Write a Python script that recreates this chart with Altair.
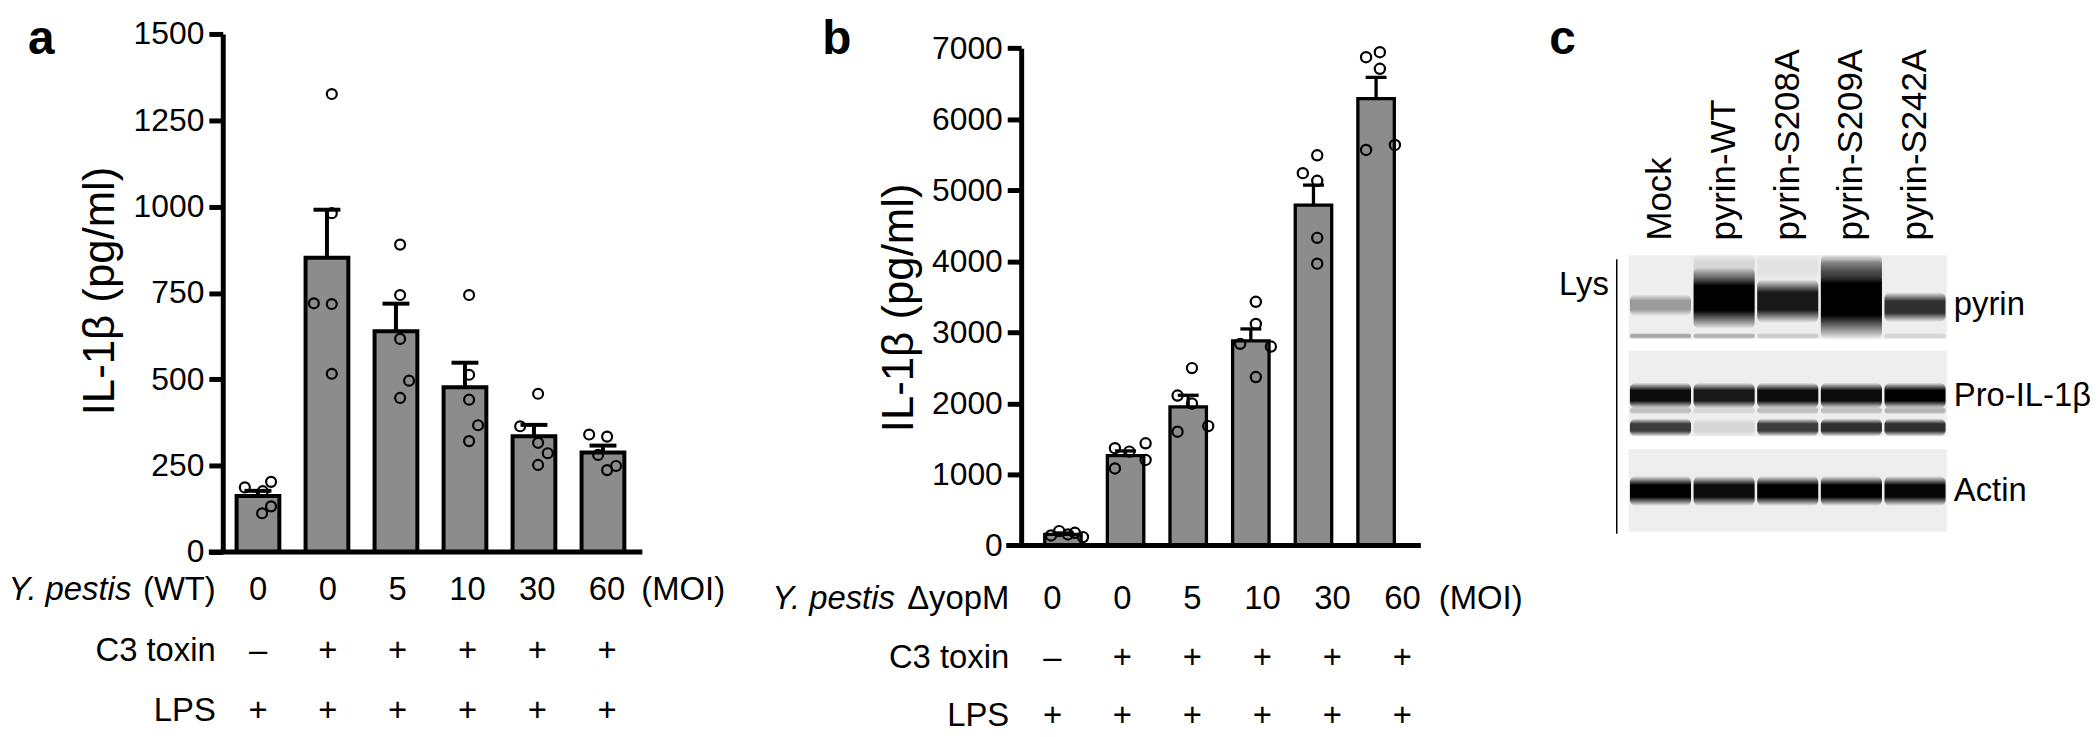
import altair as alt
import pandas as pd

FONT = "Liberation Sans"

# ---------------- panel a data ----------------
a_moi = ["0", "0", "5", "10", "30", "60"]
a_c3 = ["–", "+", "+", "+", "+", "+"]
a_lps = ["+", "+", "+", "+", "+", "+"]
a_mean = [162, 852, 639, 477, 335, 288]
a_sem = [15, 139, 80, 71, 33, 20]
a_points = [
    [187, 203, 176, 132, 112],
    [1326, 981, 720, 718, 516],
    [890, 744, 617, 496, 446],
    [744, 513, 441, 367, 321],
    [458, 364, 316, 286, 252],
    [340, 334, 281, 249, 237],
]
a_jitter = [
    [-0.19, 0.19, 0.07, 0.19, 0.06],
    [0.07, 0.07, -0.19, 0.07, 0.07],
    [0.06, 0.06, 0.06, 0.19, 0.06],
    [0.06, 0.06, 0.06, 0.19, 0.06],
    [0.06, -0.2, 0.06, 0.2, 0.06],
    [-0.2, 0.06, -0.07, 0.19, 0.06],
]
a_ticks = [0, 250, 500, 750, 1000, 1250, 1500]

# ---------------- panel b data ----------------
b_moi = ["0", "0", "5", "10", "30", "60"]
b_c3 = ["–", "+", "+", "+", "+", "+"]
b_lps = ["+", "+", "+", "+", "+", "+"]
b_mean = [155, 1265, 1950, 2880, 4790, 6290]
b_sem = [20, 65, 164, 168, 283, 300]
b_points = [
    [140, 201, 154, 178, 117],
    [1368, 1321, 1438, 1204, 1083],
    [2497, 2110, 1998, 1680, 1601],
    [3430, 3118, 2838, 2800, 2371],
    [5493, 5241, 5134, 4331, 3967],
    [6874, 6944, 6711, 5568, 5638],
]
b_jitter = [
    [-0.19, -0.06, 0.08, 0.19, 0.32],
    [-0.17, 0.06, 0.32, 0.32, -0.17],
    [0.06, -0.17, 0.06, 0.32, -0.17],
    [0.08, 0.08, -0.17, 0.32, 0.08],
    [0.06, -0.17, 0.06, 0.06, 0.06],
    [-0.16, 0.06, 0.06, -0.16, 0.3],
]
b_ticks = [0, 1000, 2000, 3000, 4000, 5000, 6000, 7000]

# ---------------- panel c data (western blot) ----------------
c_lanes = ["Mock", "pyrin-WT", "pyrin-S208A", "pyrin-S209A", "pyrin-S242A"]
c_blots = ["pyrin", "Pro-IL-1β", "Actin"]
c_strip_top = [0, 96, 195]
c_strip_bottom = [84, 182, 278]
c_label_pos = [50, 141, 237]
# band centre / thickness / darkness per lane (migration units from blot top)
c_pyrin_center = [50, 43, 46, 44, 52]
c_pyrin_thick = [22, 62, 44, 80, 30]
c_pyrin_int = [0.35, 1.0, 0.9, 1.0, 0.8]
c_pyrin_low_int = [0.3, 0.25, 0.15, 0.0, 0.1]
c_smear_int = [0.0, 0.1, 0.05, 0.35, 0.0]
c_il1_up_int = [0.95, 0.9, 0.95, 0.95, 1.0]
c_il1_mid_int = [0.2, 0.1, 0.2, 0.2, 0.25]
c_il1_low_int = [0.75, 0.1, 0.75, 0.8, 0.8]
c_actin_int = [1.0, 0.95, 1.0, 1.0, 0.97]


def text_at(txt, x, y, size, align="left", baseline="middle", style="normal",
            weight="normal", angle=None):
    kw = dict(fontSize=size, align=align, baseline=baseline, fontStyle=style,
              fontWeight=weight, color="black", font=FONT)
    if angle is not None:
        kw["angle"] = angle
    return alt.Chart(pd.DataFrame({"t": [txt]})).mark_text(**kw).encode(
        text="t:N", x=alt.value(x), y=alt.value(y))


def bar_panel(letter, means, sems, points, jitter, moi, c3, lps, ymax, ticks,
              yrange, width, height, xdom, labdom, bar_half, cap_half, lw,
              pt_size, title_xy, letter_xy, hdr_it_x, hdr_rest, hdr_x, rows_y,
              moi_x, base_left):
    bars = pd.DataFrame({"g": list(range(6)), "mean": means, "sem": sems})
    bars["top"] = bars["mean"] + bars["sem"]
    bars["zero"] = 0
    recs = []
    for i, (vs, js) in enumerate(zip(points, jitter)):
        for v, j in zip(vs, js):
            recs.append({"g": i, "v": v, "x": i + j})
    pts = pd.DataFrame(recs)
    labs = pd.DataFrame({"g": list(range(6)), "moi": moi, "c3": c3, "lps": lps})

    sk = dict(domain=[0, ymax], nice=False, zero=True)
    if yrange:
        sk["range"] = yrange
    ysc = alt.Scale(**sk)
    xsc = alt.Scale(domain=xdom, nice=False, zero=False)
    lsc = alt.Scale(domain=labdom, nice=False, zero=False)
    yax = alt.Axis(values=ticks, format="d", title="IL-1β (pg/ml)", grid=False,
                   domainColor="black", domainWidth=5, tickColor="black",
                   tickWidth=5, tickSize=14, labelFontSize=32,
                   labelColor="black", labelPadding=5, labelFont=FONT,
                   titleFont=FONT, titleFontSize=44, titleFontWeight="normal",
                   titleColor="black", titleX=title_xy[0], titleY=title_xy[1],
                   titleAngle=270, titleAlign="center", titleBaseline="middle")

    rect = alt.Chart(bars).transform_calculate(
        x0=f"datum.g - {bar_half}", x1=f"datum.g + {bar_half}"
    ).mark_rect(fill="#8c8c8c", stroke="black", strokeWidth=lw).encode(
        x=alt.X("x0:Q", scale=xsc, axis=None), x2="x1:Q",
        y=alt.Y("mean:Q", scale=ysc, axis=yax), y2="zero:Q")
    stem = alt.Chart(bars).mark_rule(color="black", strokeWidth=lw).encode(
        x=alt.X("g:Q", scale=xsc, axis=None),
        y=alt.Y("mean:Q", scale=ysc, axis=yax), y2="top:Q")
    cap = alt.Chart(bars).transform_calculate(
        c0=f"datum.g - {cap_half}", c1=f"datum.g + {cap_half}"
    ).mark_rule(color="black", strokeWidth=lw).encode(
        x=alt.X("c0:Q", scale=xsc, axis=None), x2="c1:Q",
        y=alt.Y("top:Q", scale=ysc, axis=yax))
    dots = alt.Chart(pts).mark_point(shape="circle", filled=False,
                                     stroke="black", strokeWidth=2.2,
                                     size=pt_size, opacity=1).encode(
        x=alt.X("x:Q", scale=xsc, axis=None),
        y=alt.Y("v:Q", scale=ysc, axis=yax))
    base = alt.Chart(pd.DataFrame({"z": [0]})).mark_rule(
        color="black", strokeWidth=5).encode(
        x=alt.value(base_left), x2=alt.value(width + 2),
        y=alt.Y("z:Q", scale=ysc, axis=yax))
    layers = [rect, stem, cap, dots, base]
    for col, ry in zip(["moi", "c3", "lps"], rows_y):
        layers.append(alt.Chart(labs).mark_text(
            fontSize=33, align="center", baseline="middle", color="black",
            font=FONT).encode(
            x=alt.X("g:Q", scale=lsc, axis=None), y=alt.value(ry),
            text=f"{col}:N"))
    layers += [
        text_at("Y. pestis", hdr_it_x, rows_y[0], 33, align="right", style="italic"),
        text_at(hdr_rest, hdr_x, rows_y[0], 33, align="right"),
        text_at("(MOI)", moi_x, rows_y[0], 33, align="left"),
        text_at("C3 toxin", hdr_x, rows_y[1], 33, align="right"),
        text_at("LPS", hdr_x, rows_y[2], 33, align="right"),
        text_at(letter, letter_xy[0], letter_xy[1], 48, baseline="alphabetic",
                weight="bold"),
    ]
    return alt.layer(*layers).resolve_scale(x="independent").properties(
        width=width, height=height)


H = 521
pa = bar_panel("a", a_mean, a_sem, a_points, a_jitter, a_moi, a_c3, a_lps,
               1500, a_ticks, None, 420, H, [-0.51, 5.542], [-0.506, 5.477],
               0.31, 0.195, 4, 100, (-122.5, 258), (-196, 20), -92, "(WT)",
               -7, [559.7, 620.7, 680.7], 421, -14)
pb = bar_panel("b", b_mean, b_sem, b_points, b_jitter, b_moi, b_c3, b_lps,
               7000, b_ticks, [514.4, 14.4], 400, H, [-0.667, 5.683],
               [-0.447, 5.235], 0.291, 0.167, 3.3, 105, (-122, 275),
               (-200, 20), -127, "ΔyopM", -12, [568, 628, 686], 420,
               -15)

# ---- panel c ----
strips = pd.DataFrame({"blot": c_blots, "top": c_strip_top,
                       "bottom": c_strip_bottom, "pos": c_label_pos})
band_rows = []
for i in range(5):
    band_rows.append({"lane": i, "c": c_pyrin_center[i], "t": c_pyrin_thick[i], "k": c_pyrin_int[i]})
    band_rows.append({"lane": i, "c": 81, "t": 6, "k": c_pyrin_low_int[i]})
    band_rows.append({"lane": i, "c": 12, "t": 26, "k": c_smear_int[i]})
    band_rows.append({"lane": i, "c": 141, "t": 26, "k": c_il1_up_int[i]})
    band_rows.append({"lane": i, "c": 156, "t": 8, "k": c_il1_mid_int[i]})
    band_rows.append({"lane": i, "c": 173, "t": 18, "k": c_il1_low_int[i]})
    band_rows.append({"lane": i, "c": 237, "t": 30, "k": c_actin_int[i]})
bands = pd.DataFrame(band_rows)
lanes = pd.DataFrame({"lane": list(range(5)), "name": c_lanes})

xs = alt.Scale(domain=[-0.5, 4.5], range=[-172, 148], nice=False, zero=False)
ys = alt.Scale(domain=[0, 300], range=[222.7, 522.7], nice=False, zero=False)
grad = alt.LinearGradient(
    gradient="linear", x1=0, y1=0, x2=0, y2=1,
    stops=[alt.GradientStop(offset=0, color="rgba(0,0,0,0)"),
           alt.GradientStop(offset=0.3, color="black"),
           alt.GradientStop(offset=0.7, color="black"),
           alt.GradientStop(offset=1, color="rgba(0,0,0,0)")])

bg = alt.Chart(strips).mark_rect(fill="#eeeeee").encode(
    x=alt.X(datum=-0.5, scale=xs, axis=None), x2=alt.X2(datum=4.5),
    y=alt.Y("top:Q", scale=ys, axis=None), y2="bottom:Q")
bandmark = alt.Chart(bands).transform_calculate(
    x0="datum.lane - 0.48", x1="datum.lane + 0.48",
    y0="datum.c - datum.t / 2", y1="datum.c + datum.t / 2"
).mark_rect(fill=grad, cornerRadius=6).encode(
    x=alt.X("x0:Q", scale=xs, axis=None), x2="x1:Q",
    y=alt.Y("y0:Q", scale=ys, axis=None), y2="y1:Q",
    opacity=alt.Opacity("k:Q", scale=None, legend=None))
lane_lab = alt.Chart(lanes).mark_text(angle=270, align="left", baseline="middle",
                                      fontSize=35, color="black", font=FONT).encode(
    x=alt.X("lane:Q", scale=xs, axis=None), y=alt.value(207.7), text="name:N")
right_lab = alt.Chart(strips).mark_text(align="left", baseline="middle",
                                        fontSize=33, color="black", font=FONT).encode(
    x=alt.value(155), y=alt.Y("pos:Q", scale=ys, axis=None), text="blot:N")
vline = alt.Chart(pd.DataFrame({"y0": [4], "y1": [280]})).mark_rule(
    color="black", strokeWidth=1.5).encode(
    x=alt.value(-184), y=alt.Y("y0:Q", scale=ys, axis=None), y2="y1:Q")
pc = alt.layer(
    bg, bandmark, lane_lab, right_lab, vline,
    text_at("Lys", -192, 252.7, 33, align="right"),
    text_at("c", -252, 20, 48, baseline="alphabetic", weight="bold"),
).properties(width=150, height=H)

chart = alt.hconcat(pa, pb, pc, spacing=383, bounds="flush").properties(
    padding={"top": 6, "left": 0, "right": 0, "bottom": 0}
).configure(font=FONT).configure_view(strokeWidth=0, stroke=None)

chart.save("out.html", embed_options={"renderer": "svg", "actions": False})
